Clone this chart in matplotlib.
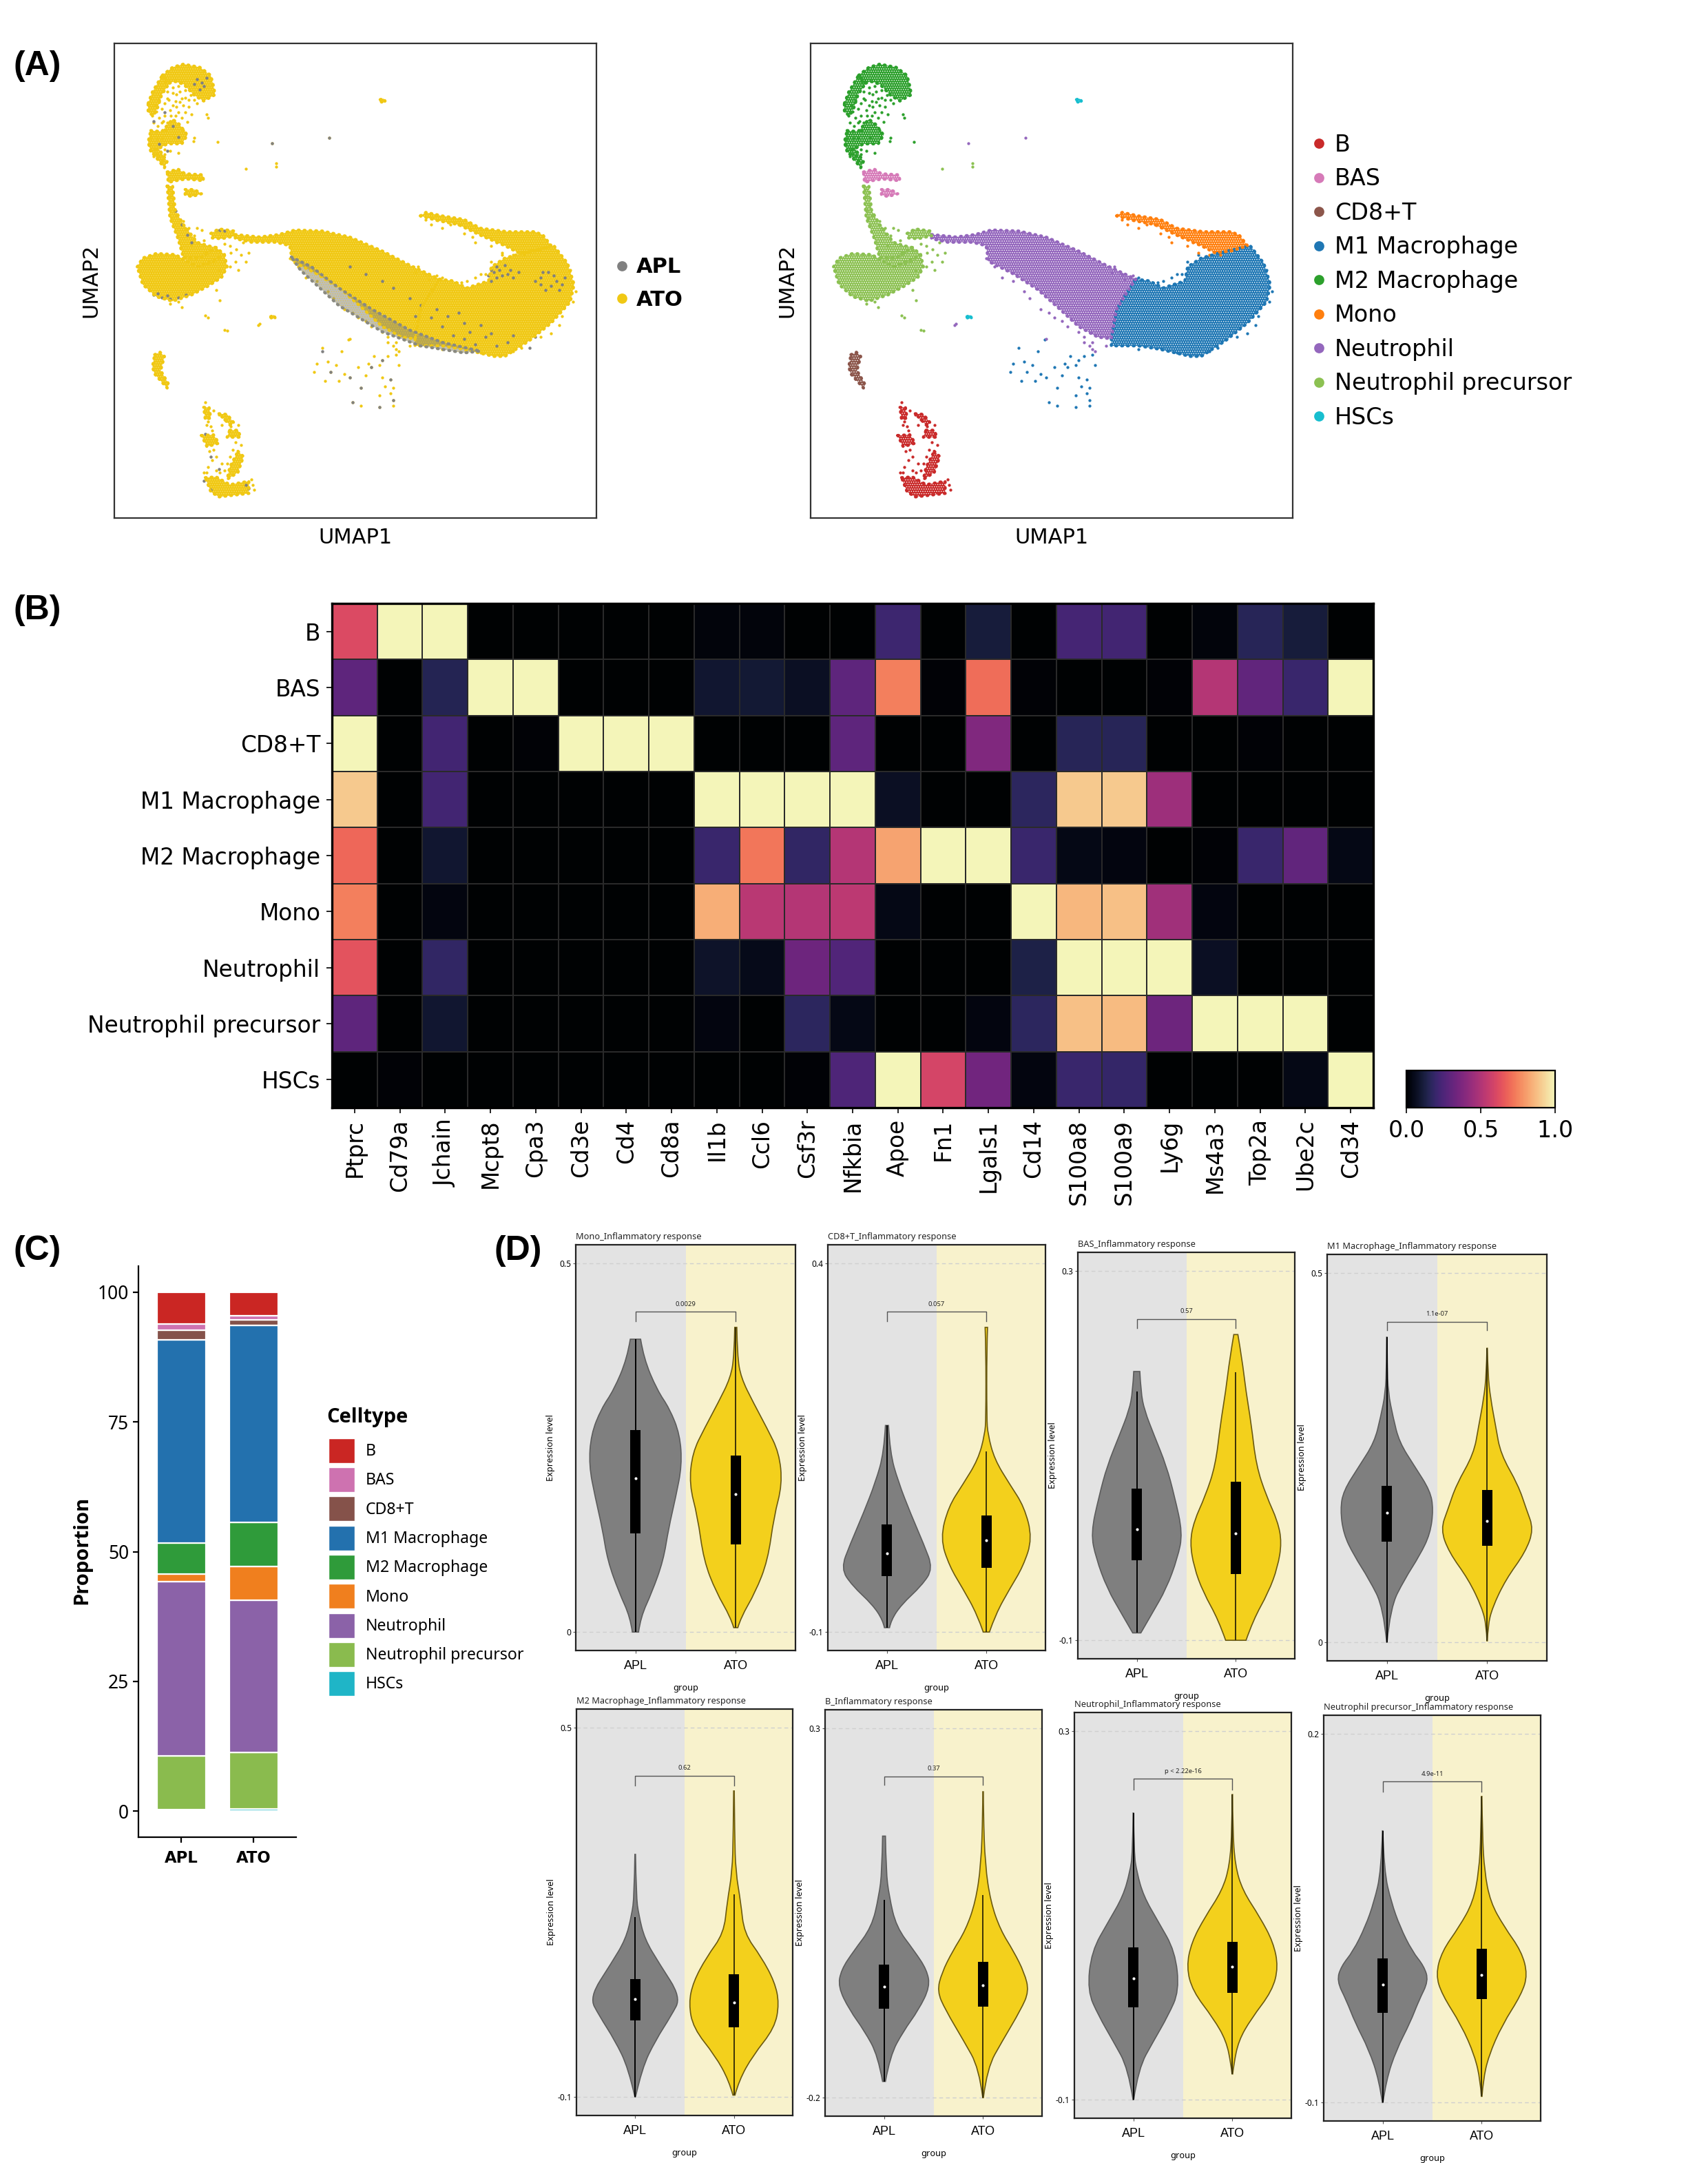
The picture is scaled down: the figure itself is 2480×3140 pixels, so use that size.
import numpy as np
import matplotlib
matplotlib.use('Agg')
import matplotlib.pyplot as plt
from matplotlib.colors import ListedColormap
from matplotlib.lines import Line2D
from matplotlib.patches import Patch, PathPatch
from matplotlib.path import Path

W, H = 2480, 3140
plt.rcParams['hatch.linewidth'] = 0.3

# ---- cell types
celltypes = ['B', 'BAS', 'CD8+T', 'M1 Macrophage', 'M2 Macrophage', 'Mono',
             'Neutrophil', 'Neutrophil precursor', 'HSCs']
umap_colors = ['#c92a2a', '#d67ab8', '#8c564b', '#1f77b4', '#2ca02c', '#ff7f0e',
               '#9467bd', '#8cc152', '#17becf']
bar_colors = ['#ca2623', '#ce72b0', '#85524a', '#2371ae', '#2f9b3a', '#f07f1e',
              '#8b62a8', '#8abb4e', '#1fb5c7']

# ---- panel A, UMAP regions and single cells (arbitrary UMAP units)
m2_regions = [
    [(186, 215), (205, 192), (225, 183), (255, 192), (275, 215), (280, 245), (283, 270), (262, 288),
     (245, 272), (225, 240), (208, 232), (195, 240)],
    [(160, 295), (168, 262), (186, 215), (200, 235), (185, 270), (178, 305), (170, 330), (160, 320)],
    [(165, 372), (185, 375), (205, 340), (218, 355), (232, 385), (222, 410), (195, 410), (178, 425),
     (165, 432), (160, 405)],
    [(165, 430), (180, 425), (195, 460), (190, 478)],
]
bas_regions = [
    [(195, 490), (215, 482), (228, 495), (260, 498), (262, 515), (230, 510), (210, 515), (197, 520)],
    [(228, 540), (245, 540), (258, 552), (240, 560), (228, 555)],
]
prec_regions = [
    [(140, 760), (150, 735), (175, 722), (210, 725), (232, 745), (250, 760), (280, 740), (300, 725),
     (305, 760), (295, 790), (270, 815), (240, 840), (205, 858), (175, 845), (150, 810)],
    [(195, 530), (205, 530), (210, 600), (225, 640), (250, 690), (270, 700), (285, 705), (255, 735),
     (225, 735), (215, 680), (200, 620)],
    [(225, 735), (255, 735), (285, 705), (300, 725), (280, 745), (250, 760), (232, 745)],
    [(275, 665), (290, 652), (318, 658), (320, 672), (295, 680), (278, 678)],
]
neut_regions = [
    [(320, 668), (365, 675), (400, 668), (430, 655), (480, 658), (530, 675), (590, 715), (640, 755),
     (695, 795), (680, 830), (660, 880), (650, 965), (625, 960), (590, 930), (555, 880), (515, 825),
     (470, 780), (425, 745), (420, 700), (395, 690), (350, 690), (320, 680)],
]
m1_regions = [
    [(695, 795), (720, 800), (745, 820), (785, 800), (790, 760), (815, 735), (850, 720), (905, 700),
     (930, 750), (942, 810), (935, 860), (900, 920), (860, 970), (815, 1015), (795, 1015), (740, 995),
     (700, 985), (650, 985), (650, 965), (660, 880), (680, 830)],
]
mono_regions = [
    [(660, 615), (670, 605), (700, 615), (740, 625), (770, 650), (820, 660), (870, 660), (885, 670),
     (900, 700), (870, 715), (840, 720), (815, 700), (770, 670), (730, 640), (690, 628)],
]
cd8_regions = [
    [(172, 1010), (182, 1003), (190, 1015), (183, 1055), (198, 1095), (195, 1105), (172, 1065), (168, 1045)],
]
b_regions = [
    [(265, 1360), (285, 1358), (310, 1380), (345, 1370), (345, 1405), (290, 1415), (275, 1400)],
    [(258, 1240), (280, 1238), (290, 1262), (268, 1272)],
    [(310, 1225), (325, 1225), (330, 1245), (305, 1245)],
    [(325, 1285), (335, 1300), (325, 1345), (305, 1365), (310, 1330)],
    [(262, 1160), (272, 1160), (275, 1190), (265, 1195)],
    [(290, 1178), (305, 1180), (318, 1205), (310, 1210)],
]
hsc_regions = [
    [(586, 284), (592, 281), (595, 288), (590, 295)],
    [(385, 902), (391, 897), (393, 905), (387, 909)],
]

m2_cells = [(172, 300), (180, 285), (195, 262), (205, 300), (215, 320), (225, 300), (190, 330), (200, 345),
            (235, 285), (250, 295), (240, 325), (185, 350), (178, 360), (170, 350), (168, 330), (222, 280),
            (212, 270), (198, 285), (232, 348), (225, 372), (245, 392), (268, 325), (270, 335), (288, 405),
            (243, 403), (215, 435), (190, 440), (185, 455), (175, 440), (162, 415), (210, 288), (228, 320),
            (175, 318), (192, 372), (208, 392), (176, 395), (165, 395), (205, 250), (215, 245), (228, 258),
            (238, 272), (205, 265), (190, 295), (185, 310), (200, 315), (212, 305), (195, 350), (210, 330),
            (222, 335), (180, 335), (188, 345), (235, 305), (218, 290), (202, 330), (175, 375), (185, 395),
            (200, 430), (170, 445), (190, 425), (180, 445), (195, 280), (218, 262), (228, 278), (245, 285)]
prec_cells = [(200, 560), (205, 585), (212, 615), (225, 630), (235, 650), (250, 650), (258, 655), (240, 700),
              (265, 720), (285, 715), (310, 700), (330, 725), (320, 745), (345, 720), (325, 770), (310, 760),
              (285, 825), (292, 855), (222, 875), (265, 898), (270, 905), (305, 942), (300, 940), (340, 480),
              (395, 465), (395, 475), (198, 540), (200, 600), (203, 620), (228, 650), (245, 672), (262, 685),
              (300, 695), (312, 720), (322, 710), (335, 690), (290, 770), (215, 860), (200, 865), (340, 745)]
neut_cells = [(420, 735), (450, 790), (490, 830), (520, 880), (545, 905), (570, 930), (600, 960), (610, 985),
              (620, 1000), (640, 985), (615, 995), (530, 965), (655, 760), (670, 780), (690, 785), (365, 922),
              (362, 925), (388, 408), (492, 392), (435, 760), (470, 800), (500, 850), (535, 890), (560, 915),
              (590, 945), (615, 975), (650, 775), (675, 795), (600, 975)]
m1_cells = [(700, 790), (745, 800), (760, 790), (780, 780), (900, 950), (920, 900), (940, 860), (880, 700),
            (830, 1000), (700, 995), (480, 990), (465, 1060), (470, 1035), (490, 1030), (505, 1040), (495, 1060),
            (520, 1065), (530, 1075), (485, 1085), (510, 1085), (545, 1045), (565, 1035), (570, 1045), (585, 1040),
            (590, 1025), (600, 1015), (615, 1010), (620, 1040), (590, 1075), (605, 1080), (560, 1070), (550, 1105),
            (610, 1105), (585, 1125), (605, 1120), (610, 1140), (585, 1160), (535, 1145), (550, 1155), (610, 1155),
            (595, 1100), (575, 1015), (515, 1000), (528, 968), (770, 780), (735, 805), (790, 745), (810, 725),
            (915, 925), (880, 960), (845, 990), (770, 1005), (945, 830), (935, 770)]
mono_cells = [(680, 640), (700, 650), (740, 665), (760, 690), (790, 700), (810, 720), (730, 640), (780, 675),
              (670, 625), (715, 640), (755, 675), (800, 690), (830, 725), (850, 725)]
b_cells = [(265, 1145), (270, 1200), (275, 1215), (280, 1280), (285, 1300), (295, 1320), (300, 1340), (290, 1180),
           (300, 1195), (312, 1215), (320, 1260), (330, 1268), (270, 1330), (285, 1340), (350, 1365), (352, 1380),
           (295, 1210), (278, 1225), (268, 1210), (272, 1285), (278, 1310), (292, 1345), (268, 1345), (280, 1170),
           (315, 1280), (310, 1300), (305, 1320), (325, 1210), (262, 1345), (355, 1395)]

# cells of the APL group seen through the ATO cloud
apl_band = [(423, 732), (460, 760), (510, 820), (570, 880), (640, 940), (700, 975), (770, 1000), (740, 1005),
            (660, 985), (590, 945), (510, 870), (440, 770)]
apl_cells = [(250, 225), (258, 235), (262, 245), (245, 240), (255, 255), (268, 222), (170, 345), (190, 320),
             (205, 360), (215, 390), (180, 410), (195, 430), (170, 840), (185, 848), (200, 852), (215, 848),
             (230, 840), (178, 835), (195, 842), (285, 656), (292, 656), (300, 657), (210, 600), (222, 640),
             (232, 670), (240, 690), (790, 770), (800, 760), (815, 755), (825, 770), (800, 790), (790, 800),
             (810, 785), (830, 790), (880, 790), (895, 775), (910, 800), (925, 790), (900, 815), (880, 810),
             (915, 825), (650, 900), (700, 930), (740, 920), (780, 960), (820, 975), (860, 990), (720, 955),
             (680, 905), (640, 850), (610, 820), (590, 800), (560, 780), (530, 760), (760, 980), (800, 985),
             (740, 965), (265, 1235), (275, 1300), (290, 1335), (340, 1380), (275, 1395), (345, 1390), (262, 1370),
             (480, 1000), (495, 1060), (530, 1075), (570, 1045), (590, 1025), (605, 1080), (550, 1105), (585, 1160),
             (610, 1140), (535, 1145), (388, 408), (492, 392), (795, 775), (805, 770), (820, 780), (785, 785),
             (840, 775), (885, 775), (905, 785), (920, 810), (870, 800), (890, 825), (710, 900), (750, 945),
             (790, 950), (830, 955), (870, 960), (690, 880), (660, 870), (730, 890), (770, 925)]

cluster_regions = [b_regions, bas_regions, cd8_regions, m1_regions, m2_regions, mono_regions,
                   neut_regions, prec_regions, hsc_regions]
cluster_cells = [b_cells, [], [], m1_cells, m2_cells, mono_cells, neut_cells, prec_cells, []]

# ---- panel B, scaled mean expression
genes = ['Ptprc', 'Cd79a', 'Jchain', 'Mcpt8', 'Cpa3', 'Cd3e', 'Cd4', 'Cd8a', 'Il1b', 'Ccl6', 'Csf3r', 'Nfkbia',
         'Apoe', 'Fn1', 'Lgals1', 'Cd14', 'S100a8', 'S100a9', 'Ly6g', 'Ms4a3', 'Top2a', 'Ube2c', 'Cd34']
expr_b = [.61, 1, 1, 0, 0, 0, 0, 0, .02, .02, 0, 0, .21, 0, .11, 0, .23, .22, 0, .02, .16, .11, 0]
expr_bas = [.29, 0, .15, 1, 1, 0, 0, 0, .09, .10, .07, .29, .74, .01, .70, .01, 0, 0, .01, .51, .30, .2, 1]
expr_cd8 = [1, 0, .22, 0, .01, 1, 1, 1, 0, 0, 0, .29, 0, 0, .38, 0, .16, .16, 0, 0, .01, 0, 0]
expr_m1 = [.9, 0, .22, 0, 0, 0, 0, 0, 1, 1, 1, 1, .07, 0, 0, .17, .9, .9, .45, 0, 0, 0, 0]
expr_m2 = [.69, 0, .09, 0, 0, 0, 0, 0, .2, .72, .18, .51, .82, 1, 1, .2, .04, .03, 0, .01, .2, .3, .04]
expr_mono = [.74, 0, .03, 0, 0, 0, 0, 0, .84, .52, .51, .53, .04, 0, 0, 1, .86, .88, .46, .03, 0, 0, 0]
expr_neut = [.64, 0, .18, 0, 0, 0, 0, 0, .08, .05, .33, .26, 0, 0, 0, .13, 1, 1, 1, .07, 0, 0, 0]
expr_prec = [.29, 0, .09, 0, 0, 0, 0, 0, .03, 0, .17, .04, 0, 0, .03, .17, .88, .87, .33, 1, 1, 1, 0]
expr_hsc = [0, .01, 0, 0, 0, 0, 0, 0, 0, 0, .01, .25, 1, .59, .34, .03, .2, .19, 0, 0, 0, .04, 1]

# ---- panel C, stacked proportions, from bottom to top of the bar
stack_order = ['HSCs', 'Neutrophil precursor', 'Neutrophil', 'Mono', 'M2 Macrophage', 'M1 Macrophage',
               'CD8+T', 'BAS', 'B']
apl_props = [0.3, 10.3, 33.6, 1.5, 5.9, 39.2, 1.8, 1.3, 6.1]
ato_props = [0.5, 10.8, 29.4, 6.4, 8.6, 37.9, 1.0, 0.9, 4.5]

# ---- panel D, violins: level, half width, box q1/q3, median, whisker ends
mono_apl_y = [.397, .371, .328, .303, .268, .226, .183, .140, .097, .054, .020, 0]
mono_apl_w = [.05, .08, .21, .33, .43, .45, .39, .32, .27, .16, .05, .03]
mono_apl_box = [.134, .208, .274, 0, .397]
mono_ato_y = [.413, .375, .345, .311, .277, .243, .200, .157, .097, .054, .020, .006]
mono_ato_w = [.01, .015, .05, .17, .30, .42, .45, .37, .31, .19, .05, .02]
mono_ato_box = [.119, .187, .239, .006, .413]

cd8_apl_y = [.180, .143, .104, .061, .019, -.014, -.037, -.063, -.084, -.094]
cd8_apl_w = [.015, .03, .11, .23, .36, .45, .34, .14, .04, .025]
cd8_apl_box = [-.024, .007, .046, -.094, .180]
cd8_ato_y = [.313, .284, .190, .168, .134, .100, .070, .027, -.011, -.041, -.076, -.100]
cd8_ato_w = [.012, .004, .004, .015, .08, .23, .37, .45, .36, .23, .09, .03]
cd8_ato_box = [-.013, .024, .058, -.100, .145]

bas_apl_y = [.191, .169, .149, .122, .089, .056, .016, -.011, -.044, -.071, -.092]
bas_apl_w = [.03, .04, .075, .17, .29, .37, .45, .40, .29, .15, .04]
bas_apl_box = [-.013, .020, .064, -.092, .169]
bas_ato_y = [.231, .205, .169, .135, .089, .056, .029, .006, -.021, -.048, -.078, -.100]
bas_ato_w = [.02, .06, .10, .15, .20, .30, .41, .45, .41, .32, .17, .10]
bas_ato_box = [-.028, .016, .072, -.100, .190]

m1_apl_y = [.413, .375, .338, .305, .271, .238, .205, .180, .147, .118, .085, .047, 0]
m1_apl_w = [.002, .004, .013, .06, .12, .27, .42, .45, .42, .32, .17, .033, .002]
m1_apl_box = [.136, .175, .212, 0, .413]
m1_ato_y = [.398, .363, .330, .292, .255, .213, .180, .153, .122, .085, .047, .022, .002]
m1_ato_w = [.002, .007, .033, .083, .13, .30, .38, .45, .37, .18, .05, .007, .002]
m1_ato_box = [.131, .164, .206, .002, .398]

m2_apl_y = [.294, .226, .196, .156, .117, .062, .032, -.008, -.053, -.100]
m2_apl_w = [.003, .01, .034, .094, .236, .45, .354, .20, .067, .003]
m2_apl_box = [.024, .059, .092, -.100, .192]
m2_ato_y = [.397, .326, .266, .216, .166, .127, .087, .052, .012, -.033, -.073, -.097]
m2_ato_w = [.003, .007, .017, .067, .10, .27, .40, .445, .40, .185, .05, .01]
m2_ato_box = [.013, .054, .099, -.097, .229]

b_apl_y = [.154, .106, .073, .031, -.002, -.027, -.050, -.081, -.110, -.143, -.178]
b_apl_w = [.014, .02, .05, .12, .30, .42, .45, .34, .19, .06, .014]
b_apl_box = [-.080, -.050, -.020, -.178, .068]
b_ato_y = [.214, .185, .115, .065, .027, -.002, -.031, -.056, -.081, -.123, -.160, -.200]
b_ato_w = [.003, .003, .02, .074, .17, .30, .405, .45, .37, .19, .04, .003]
b_ato_box = [-.077, -.048, -.016, -.200, .074]

neut_apl_y = [.211, .167, .147, .121, .094, .061, .018, -.009, -.036, -.066, -.100]
neut_apl_w = [.002, .007, .034, .10, .24, .41, .45, .34, .20, .05, .003]
neut_apl_box = [0, .032, .065, -.100, .211]
neut_ato_y = [.231, .194, .154, .127, .098, .071, .044, .018, -.012, -.036, -.062, -.072]
neut_ato_w = [.002, .003, .027, .10, .27, .40, .45, .39, .185, .06, .013, .003]
neut_ato_box = [.016, .044, .071, -.072, .231]

prec_apl_y = [.121, .088, .063, .043, .023, .011, -.001, -.017, -.035, -.057, -.082, -.100]
prec_apl_w = [.002, .014, .085, .17, .29, .405, .45, .355, .27, .135, .034, .003]
prec_apl_box = [-.027, -.004, .017, -.100, .121]
prec_ato_y = [.149, .118, .088, .063, .043, .023, .004, -.012, -.037, -.062, -.082, -.095]
prec_ato_w = [.002, .007, .027, .085, .22, .39, .45, .39, .20, .068, .014, .003]
prec_ato_box = [-.016, .004, .025, -.095, .149]

# title, lower tick, upper tick, tick labels, p value, bracket level, bracket drop
mono_info = ['Mono_Inflammatory response', 0, .5, ['0', '0.5'], '0.0029', .434, .421]
cd8_info = ['CD8+T_Inflammatory response', -.1, .4, ['-0.1', '0.4'], '0.057', .334, .321]
bas_info = ['BAS_Inflammatory response', -.1, .3, ['-0.1', '0.3'], '0.57', .248, .238]
m1_info = ['M1 Macrophage_Inflammatory response', 0, .5, ['0', '0.5'], '1.1e-07', .434, .422]
m2_info = ['M2 Macrophage_Inflammatory response', -.1, .5, ['-0.1', '0.5'], '0.62', .422, .406]
b_info = ['B_Inflammatory response', -.2, .3, ['-0.2', '0.3'], '0.37', .235, .223]
neut_info = ['Neutrophil_Inflammatory response', -.1, .3, ['-0.1', '0.3'], 'p < 2.22e-16', .248, .236]
prec_info = ['Neutrophil precursor_Inflammatory response', -.1, .2, ['-0.1', '0.2'], '4.9e-11', .161, .153]

# axes boxes in output pixels: left, top, right, bottom
violin_boxes = [(836, 1807, 1155, 2396), (1202, 1807, 1518, 2396), (1565, 1818, 1880, 2408),
                (1927, 1821, 2246, 2411), (837, 2481, 1151, 3071), (1198, 2482, 1513, 3072),
                (1560, 2486, 1875, 3075), (1922, 2490, 2237, 3079)]


def px_axes(fig, left, top, right, bottom):
    return fig.add_axes([left / W, 1 - bottom / H, (right - left) / W, (bottom - top) / H])


def draw_regions(ax, regions, color, alpha=1.0, speck='white'):
    # dotted outline and fine dots give the grain of the dense point clouds
    for reg in regions:
        xs, ys = zip(*reg)
        ax.fill(xs, ys, facecolor=color, edgecolor=speck, hatch='..........', lw=0, alpha=alpha)
        ax.plot(list(xs) + [xs[0]], list(ys) + [ys[0]], color=color, lw=1.6, ls=(0, (0.3, 1.6)),
                dash_capstyle='round')


def draw_cells(ax, cells, color, size=2.4, alpha=1.0):
    if cells:
        xs, ys = zip(*cells)
        ax.scatter(xs, ys, s=size, color=color, linewidths=0, alpha=alpha)


def setup_umap(ax):
    ax.set_xlim(98, 983)
    ax.set_ylim(1475, 124)
    ax.set_xticks([])
    ax.set_yticks([])
    for sp in ax.spines.values():
        sp.set_linewidth(0.8)
        sp.set_color('#333333')
    ax.set_xlabel('UMAP1', fontsize=11, labelpad=5)
    ax.set_ylabel('UMAP2', fontsize=11, labelpad=7)


def violin_path(center, y, w):
    """Closed outline, the read levels act as control points of quadratic curves."""
    left = [(center - a * 1.03, b) for a, b in zip(w, y)]
    right = [(center + a * 1.03, b) for a, b in zip(w, y)][::-1]
    verts, codes = [left[0]], [Path.MOVETO]
    for side in (left, right):
        if side is right:
            verts.append(side[0])
            codes.append(Path.LINETO)
        for i in range(1, len(side) - 1):
            mid = ((side[i][0] + side[i + 1][0]) / 2, (side[i][1] + side[i + 1][1]) / 2)
            if i == len(side) - 2:
                mid = side[i + 1]
            verts += [side[i], mid]
            codes += [Path.CURVE3, Path.CURVE3]
    verts.append(left[0])
    codes.append(Path.CLOSEPOLY)
    return Path(verts, codes)


def draw_violin(ax, center, y, w, box, fill, edge, whisk):
    ax.add_patch(PathPatch(violin_path(center, y, w), facecolor=fill, edgecolor=edge, lw=0.6, zorder=3))
    q1, med, q3, lo, hi = box
    ax.plot([center, center], [lo, hi], color=whisk, lw=0.7, zorder=4, solid_capstyle='butt')
    ax.bar(center, q3 - q1, bottom=q1, width=0.103, color='black', zorder=5)
    ax.scatter([center], [med], s=2.2, color='white', linewidths=0, zorder=6)


def draw_violin_panel(fig, rect, info, apl, ato):
    title, lo, hi, ticklabs, pval, brk, drop = info
    ax = px_axes(fig, *rect)
    span = hi - lo
    ax.set_xlim(0.405, 2.595)
    ax.set_ylim(lo - 0.05 * span, hi + 0.05 * span)
    ax.axvspan(0.405, 1.5, color='#e3e3e3', lw=0, zorder=0)
    ax.axvspan(1.5, 2.595, color='#f8f2cc', lw=0, zorder=0)
    for val in (lo, hi):
        ax.axhline(val, color='#cfcfcf', lw=0.5, ls=(0, (4, 3)), zorder=1)
    draw_violin(ax, 1, apl[0], apl[1], apl[2], '#7f7f7f', '#5c5c5c', 'black')
    draw_violin(ax, 2, ato[0], ato[1], ato[2], '#f3d01c', '#6b5a10', '#3a3208')
    ax.plot([1, 1, 2, 2], [drop, brk, brk, drop], color='#555555', lw=0.5, zorder=2)
    ax.text(1.5, brk + 0.012 * span, pval, ha='center', va='bottom', fontsize=3.4,
            family='Noto Sans', color='#222222')
    ax.set_xticks([1, 2], ['APL', 'ATO'], family='Liberation Sans', fontsize=6.5)
    ax.set_yticks([lo, hi], ticklabs, family='Noto Sans', fontsize=4.3)
    ax.tick_params(axis='x', length=1.5, width=0.4, pad=3.5, color='#555555')
    ax.tick_params(axis='y', length=1.5, width=0.4, pad=1, color='#555555')
    for sp in ax.spines.values():
        sp.set_linewidth(0.8)
        sp.set_color('#222222')
    ax.set_xlabel('group', family='Noto Sans', fontsize=4.6)
    ax.set_ylabel('Expression level', family='Noto Sans', fontsize=4.6)
    ax.xaxis.set_label_coords(0.5, -0.082)
    ax.yaxis.set_label_coords(-0.095, 0.5)
    ax.set_title(title, loc='left', family='Noto Sans', fontsize=4.6, pad=3, color='#222222')


def main():
    fig = plt.figure(figsize=(W / 200, H / 200), dpi=200)

    # ---- A: by group
    ax_a = px_axes(fig, 166, 63, 866, 752)
    setup_umap(ax_a)
    yellow = '#f0c814'
    for regions, cells in zip(cluster_regions, cluster_cells):
        draw_regions(ax_a, regions, yellow, speck='#f7dc5c')
        draw_cells(ax_a, cells, yellow)
    draw_regions(ax_a, [apl_band], '#8a8a80', alpha=0.55, speck=yellow)
    draw_cells(ax_a, apl_cells, '#808080', size=2.6)
    handles = [Line2D([], [], ls='', marker='o', ms=4.3, color=c) for c in ('#808080', yellow)]
    fig.legend(handles, ['APL', 'ATO'], loc='upper left', bbox_to_anchor=(860 / W, 1 - 346 / H),
               frameon=False, prop={'size': 11, 'weight': 'bold'}, handlelength=1, handletextpad=0.2,
               labelspacing=0.6)

    # ---- A: by cell type
    ax_a2 = px_axes(fig, 1177, 63, 1877, 752)
    setup_umap(ax_a2)
    for regions, cells, col in zip(cluster_regions, cluster_cells, umap_colors):
        draw_regions(ax_a2, regions, col)
        draw_cells(ax_a2, cells, col)
    handles = [Line2D([], [], ls='', marker='o', ms=4.3, color=c) for c in umap_colors]
    fig.legend(handles, celltypes, loc='upper left', bbox_to_anchor=(1868 / W, 1 - 164 / H),
               frameon=False, fontsize=12, handlelength=1, handletextpad=0.2, labelspacing=0.495)

    # ---- B: heatmap, magma with the darks shifted towards navy as printed
    matrix = np.array([expr_b, expr_bas, expr_cd8, expr_m1, expr_m2, expr_mono, expr_neut, expr_prec, expr_hsc])
    t = np.linspace(0, 1, 256)
    base = plt.get_cmap('magma')(t)
    base[:, :3] *= 0.97
    base[:, 1] = np.clip(base[:, 1] + 0.09 * np.exp(-((t - 0.2) / 0.12) ** 2), 0, 1)
    ax_h = px_axes(fig, 482, 876, 1994, 1608)
    mesh = ax_h.pcolormesh(matrix, cmap=ListedColormap(base), vmin=0, vmax=1,
                           edgecolors='#2a2a2a', linewidth=0.1)
    ax_h.invert_yaxis()
    ax_h.set_xticks(np.arange(len(genes)) + 0.5, genes, rotation=90, fontsize=11.8)
    ax_h.set_yticks(np.arange(len(celltypes)) + 0.5, celltypes, fontsize=11.8)
    ax_h.tick_params(length=3, width=0.6, pad=3)
    for sp in ax_h.spines.values():
        sp.set_linewidth(1.2)
    cax = px_axes(fig, 2042, 1554, 2258, 1608)
    cb = fig.colorbar(mesh, cax=cax, orientation='horizontal', ticks=[0, 0.5, 1])
    cb.ax.set_xticklabels(['0.0', '0.5', '1.0'], fontsize=12)
    cb.ax.tick_params(length=3, width=0.6, pad=3)
    cb.outline.set_linewidth(0.8)

    # ---- C: stacked bars
    ax_c = px_axes(fig, 201, 1838, 430, 2667)
    ax_c.set_xlim(0.404, 2.589)
    ax_c.set_ylim(-5, 105)
    col_by_type = dict(zip(celltypes, bar_colors))
    bottom = np.zeros(2)
    for i, name in enumerate(stack_order):
        vals = np.array([apl_props[i], ato_props[i]])
        ax_c.bar([1, 2], vals, bottom=bottom, width=0.68, color=col_by_type[name],
                 edgecolor='white', linewidth=0.8)
        bottom += vals
    ax_c.set_xticks([1, 2], ['APL', 'ATO'], fontsize=8.2, fontweight='bold')
    ax_c.set_yticks([0, 25, 50, 75, 100])
    ax_c.tick_params(axis='y', labelsize=9.5, length=3, width=0.8, pad=2)
    for lab in ax_c.get_yticklabels():
        lab.set_family('Noto Sans')
    ax_c.tick_params(axis='x', length=3, width=0.8, pad=4)
    ax_c.spines[['top', 'right']].set_visible(False)
    ax_c.set_ylabel('Proportion', family='Open Sans', fontweight='bold', fontsize=10.5, labelpad=3, y=0.503)
    handles = [Patch(facecolor=c, edgecolor='white', lw=0.5) for c in bar_colors]
    fig.text(474 / W, 1 - 2058 / H, 'Celltype', family='Open Sans', fontweight='bold', fontsize=10.5,
             ha='left', va='center')
    fig.legend(handles, celltypes, loc='upper left', bbox_to_anchor=(456 / W, 1 - 2067 / H), frameon=False,
               prop={'family': 'Noto Sans', 'size': 8.3}, handlelength=1.65, handleheight=2.03,
               labelspacing=0.27, handletextpad=0.7)

    # ---- D: violins
    panels = [
        (mono_info, (mono_apl_y, mono_apl_w, mono_apl_box), (mono_ato_y, mono_ato_w, mono_ato_box)),
        (cd8_info, (cd8_apl_y, cd8_apl_w, cd8_apl_box), (cd8_ato_y, cd8_ato_w, cd8_ato_box)),
        (bas_info, (bas_apl_y, bas_apl_w, bas_apl_box), (bas_ato_y, bas_ato_w, bas_ato_box)),
        (m1_info, (m1_apl_y, m1_apl_w, m1_apl_box), (m1_ato_y, m1_ato_w, m1_ato_box)),
        (m2_info, (m2_apl_y, m2_apl_w, m2_apl_box), (m2_ato_y, m2_ato_w, m2_ato_box)),
        (b_info, (b_apl_y, b_apl_w, b_apl_box), (b_ato_y, b_ato_w, b_ato_box)),
        (neut_info, (neut_apl_y, neut_apl_w, neut_apl_box), (neut_ato_y, neut_ato_w, neut_ato_box)),
        (prec_info, (prec_apl_y, prec_apl_w, prec_apl_box), (prec_ato_y, prec_ato_w, prec_ato_box)),
    ]
    for rect, (info, apl, ato) in zip(violin_boxes, panels):
        draw_violin_panel(fig, rect, info, apl, ato)

    # panel letters
    for letter, x, y in [('(A)', 20, 96), ('(B)', 20, 886), ('(C)', 20, 1816), ('(D)', 718, 1816)]:
        fig.text(x / W, 1 - y / H, letter, family='Liberation Sans', fontweight='bold', fontsize=18,
                 ha='left', va='center')

    fig.savefig('out.png', dpi=200, facecolor='white')


if __name__ == '__main__':
    main()
